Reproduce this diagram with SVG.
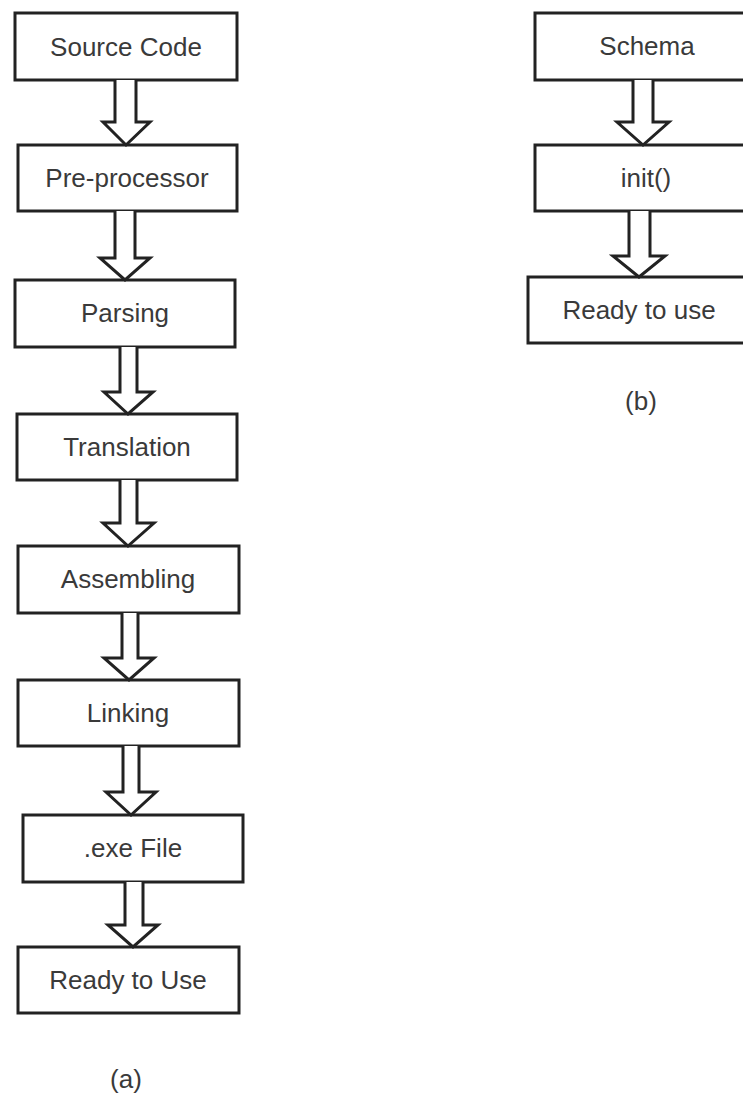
<svg xmlns="http://www.w3.org/2000/svg" width="743" height="1094" viewBox="0 0 743 1094">
  <style>
    .box { fill: #ffffff; stroke: #222222; stroke-width: 3; }
    .lbl { font-family: "Liberation Sans", Arial, sans-serif; font-size: 26px; fill: #3a3a3a; text-anchor: middle; }
    .flow { fill: #ffffff; stroke: #222222; stroke-width: 3; stroke-linejoin: miter; }
  </style>
  <rect width="743" height="1094" fill="#ffffff"/>

  <!-- (a) compilation pipeline -->
  <g id="source-code"><rect class="box" x="15" y="13" width="222" height="67"/><text class="lbl" x="126" y="56">Source Code</text></g>
  <g id="pre-processor"><rect class="box" x="18" y="145" width="219" height="66"/><text class="lbl" x="127" y="187">Pre-processor</text></g>
  <g id="parsing"><rect class="box" x="15" y="280" width="220" height="67"/><text class="lbl" x="125" y="322">Parsing</text></g>
  <g id="translation"><rect class="box" x="17" y="414" width="220" height="66"/><text class="lbl" x="127" y="456">Translation</text></g>
  <g id="assembling"><rect class="box" x="18" y="546" width="221" height="67"/><text class="lbl" x="128" y="588">Assembling</text></g>
  <g id="linking"><rect class="box" x="18" y="680" width="221" height="66"/><text class="lbl" x="128" y="722">Linking</text></g>
  <g id="exe-file"><rect class="box" x="23" y="815" width="220" height="67"/><text class="lbl" x="133" y="857">.exe File</text></g>
  <g id="ready-to-use-a"><rect class="box" x="18" y="947" width="221" height="66"/><text class="lbl" x="128" y="989">Ready to Use</text></g>
  <g id="caption-a"><text class="lbl" x="126" y="1088">(a)</text></g>

  <!-- (b) schema initialisation -->
  <g id="schema"><rect class="box" x="535" y="13" width="230" height="67"/><text class="lbl" x="647" y="55">Schema</text></g>
  <g id="init"><rect class="box" x="535" y="145" width="230" height="66"/><text class="lbl" x="646" y="187">init()</text></g>
  <g id="ready-to-use-b"><rect class="box" x="528" y="277" width="237" height="66"/><text class="lbl" x="639" y="319">Ready to use</text></g>
  <g id="caption-b"><text class="lbl" x="641" y="410">(b)</text></g>

  <!-- hollow block arrows between stages -->
  <g id="connectors">
    <path class="flow" d="M115,80 V122 H103 L126,145 L150,122 H136 V80"/>
    <path class="flow" d="M115,211 V258 H100 L125,280 L150,258 H135 V211"/>
    <path class="flow" d="M120,347 V392 H104 L128,414 L153,392 H137 V347"/>
    <path class="flow" d="M120,480 V523 H103 L128,546 L154,523 H137 V480"/>
    <path class="flow" d="M122,613 V658 H104 L129,680 L154,658 H138 V613"/>
    <path class="flow" d="M123,746 V792 H106 L131,815 L156,792 H139 V746"/>
    <path class="flow" d="M125,882 V925 H108 L133,947 L158,925 H143 V882"/>
    <path class="flow" d="M633,80 V122 H617 L643,145 L669,122 H653 V80"/>
    <path class="flow" d="M629,211 V256 H613 L639,277 L665,256 H650 V211"/>
  </g>
</svg>
